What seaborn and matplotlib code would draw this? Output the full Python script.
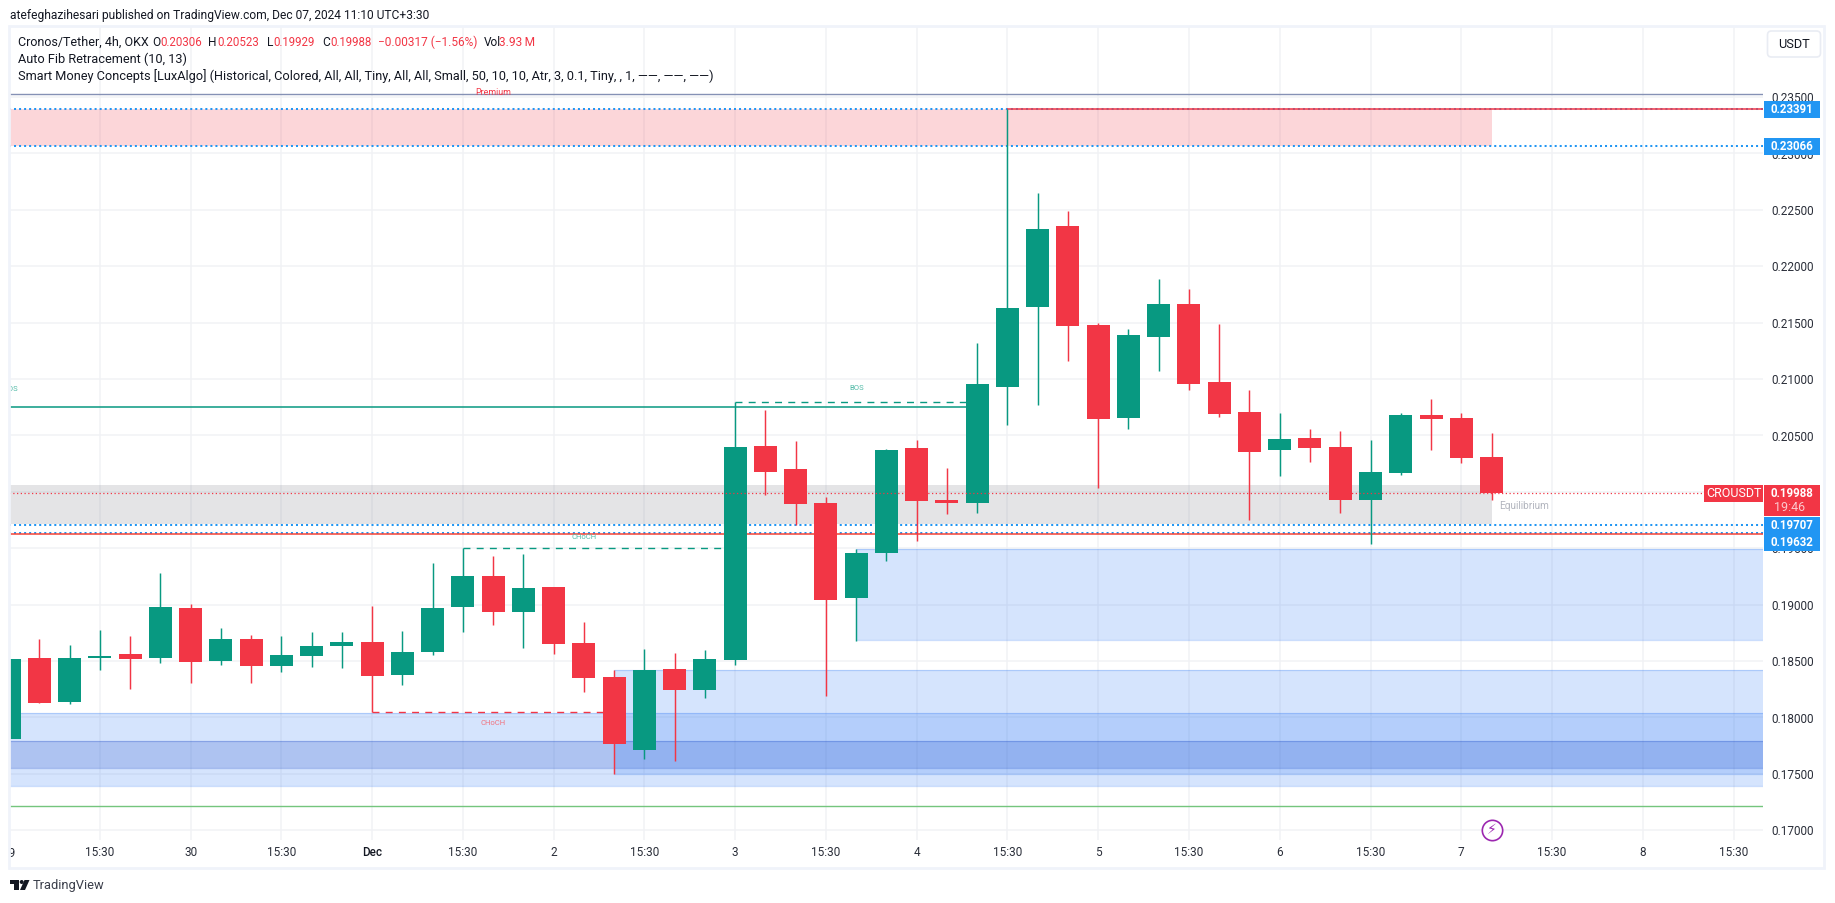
import numpy as np
import pandas as pd
import matplotlib.pyplot as plt
import seaborn as sns
from matplotlib.patches import Rectangle, FancyBboxPatch, Polygon, Circle
from matplotlib.transforms import Bbox

W, H = 1835, 903

# 4h candles, Cronos/Tether
candle_open = [.17809, .18528, .18137, .18528, .18563, .18528, .18971, .18501, .18696, .18457,
               .18545, .18634, .18669, .18377, .18581, .18980, .19255, .18936, .19157, .18661,
               .18359, .17712, .18430, .18244, .18510, .20408, .20204, .19902, .19060, .19459,
               .20390, .19928, .19902, .20931, .21640, .22358, .21480, .20656, .21374, .21667,
               .20975, .20709, .20372, .20478, .20398, .19928, .20168, .20682, .20656, .20306]
candle_high = [.18519, .18696, .18643, .18776, .18723, .19281, .19006, .18794, .18731, .18723,
               .18758, .18758, .18989, .18767, .19370, .19500, .19432, .19450, .19157, .18847,
               .18421, .18607, .18572, .18599, .20801, .20727, .20452, .19955, .19494, .20381,
               .20461, .20212, .21321, .23391, .22651, .22491, .21495, .21445, .21888, .21800,
               .21489, .20904, .20700, .20558, .20540, .20461, .20700, .20824, .20700, .20523]
candle_low = [.17809, .18129, .18120, .18421, .18253, .18483, .18306, .18466, .18306, .18403,
              .18448, .18439, .18052, .18288, .18554, .18758, .18820, .18616, .18563, .18226,
              .17499, .17632, .17614, .18173, .18466, .19973, .19707, .18191, .18678, .19388,
              .19565, .19804, .19813, .20593, .20771, .21161, .20035, .20558, .21072, .20904,
              .20664, .19751, .20141, .20265, .19813, .19538, .20150, .20372, .20256, .19929]
candle_close = [.18519, .18129, .18528, .18545, .18519, .18980, .18492, .18696, .18457, .18554,
                .18634, .18669, .18368, .18581, .18971, .19255, .18936, .19148, .18652, .18350,
                .17765, .18421, .18244, .18519, .20399, .20177, .19893, .19042, .19459, .20372,
                .19919, .19902, .20957, .21631, .22332, .21471, .20647, .21392, .21667, .20957,
                .20691, .20354, .20469, .20390, .19928, .20177, .20682, .20647, .20301, .19988]

price_ticks = [.235, .23, .225, .22, .215, .21, .205, .20, .195, .19, .185, .18, .175, .17]
time_ticks = [3, 6, 9, 12, 15, 18, 21, 24, 27, 30, 33, 36, 39, 42, 45, 48, 51, 54, 57]
time_labels = ["15:30", "30", "15:30", "Dec", "15:30", "2", "15:30", "3", "15:30", "4",
               "15:30", "5", "15:30", "6", "15:30", "7", "15:30", "8", "15:30"]

# smart money zones: (start bar, top, bottom)
demand_zones = [(0, .18037, .17395), (20, .18418, .17502), (28, .19491, .18684)]
dark_zone = (0, .17789, .17555)
premium_zone = (0, .23391, .23066)
equilibrium_zone = (0, .20062, .19713)

fib_levels = [.23391, .23066, .19707, .19632]
last_price = .19988
top_line = .23526
bottom_line = .17213
swing_low_line = .19625
bos_line = .20751

GREEN = "#089981"
RED = "#f23645"
BLUE = "#2196f3"
ZONE = "#3179f5"
TEXT = "#131722"
AXIS_TEXT = "#2a2e39"
FRAME = "#f0f3fa"
GRID = "#f1f2f5"
TICK_SIZE = 8.5
TAG_SIZE = 8.3

sns.set_theme(style="white")
plt.rcParams["font.family"] = ["Roboto", "DejaVu Sans"]

df = pd.DataFrame({"bar": np.arange(len(candle_open)), "open": candle_open, "high": candle_high,
                   "low": candle_low, "close": candle_close})
df["body"] = (df["close"] - df["open"]).abs()
df["base"] = df[["open", "close"]].min(axis=1)
up = df[df["close"] > df["open"]]
down = df[df["close"] <= df["open"]]


def fx(px):
    return px / W


def fy(py):
    return 1 - py / H


fig = plt.figure(figsize=((W + 0.2) / 100, (H + 0.2) / 100), dpi=100, facecolor="white")
ax = fig.add_axes([fx(10), fy(840), fx(1753), 813 / H])
ax.set_facecolor("white")

# bodies and wicks
for part, color in ((up, GREEN), (down, RED)):
    sns.barplot(data=part, x="bar", y="body", bottom=part["base"].to_numpy(), native_scale=True,
                width=0.76, color=color, saturation=1, errorbar=None, linewidth=0, zorder=3, ax=ax)
    ax.vlines(part["bar"], part["low"], part["high"], color=color, lw=1.05, zorder=2.9)

x_right = 57.98
ax.set_xlim(0.03, x_right)
ax.set_ylim(.16914, .24123)
ax.set_xlabel("")
ax.set_ylabel("")
sns.despine(ax=ax, left=True, bottom=True, right=True, top=True)

ax.set_axisbelow(True)
ax.grid(True, color=GRID, lw=1.1, zorder=0.5)
ax.yaxis.tick_right()
ax.set_yticks(price_ticks)
ax.set_yticklabels([f"{p:.5f}" for p in price_ticks], fontsize=TICK_SIZE, color=AXIS_TEXT)
ax.set_xticks(time_ticks)
ax.set_xticklabels(time_labels, fontsize=TICK_SIZE, color=AXIS_TEXT)
ax.tick_params(axis="y", length=0, pad=6)
ax.tick_params(axis="x", length=0, pad=4.5)
for lab in ax.get_xticklabels():
    if lab.get_text() == "Dec":
        lab.set_fontweight(500)
        lab.set_color(TEXT)
first = ax.text(0, -0.016, "29", transform=ax.get_xaxis_transform(), ha="center", va="center",
                fontsize=TICK_SIZE, color=AXIS_TEXT, clip_on=True)
first.set_clip_box(Bbox([[10, 0], [W, H]]))


def zone(start, top, bottom, color, alpha=0.2, end=x_right, edge=True):
    ax.add_patch(Rectangle((start, bottom), end - start, top - bottom, facecolor=color, alpha=alpha,
                           lw=0, zorder=1))
    if edge:
        ax.hlines([top, bottom], start, end, color=color, alpha=0.25, lw=0.9, zorder=1.1)


for start, top, bottom in demand_zones:
    zone(start, top, bottom, ZONE)
zone(*dark_zone, "#1343c5")
zone(*premium_zone, RED, end=49, edge=False)
zone(*equilibrium_zone, "#787b86", end=49, edge=False)

dots = (0, (1, 1.5))
ax.hlines(fib_levels, 0, x_right, color=BLUE, lw=1.45, linestyles=[dots], zorder=1.5)
ax.hlines(top_line, 0, x_right, color="#8591b5", lw=1, zorder=1.5)
ax.hlines(bottom_line, 0, x_right, color="#74c57d", lw=1, zorder=1.5)
ax.hlines(swing_low_line, 0, x_right, color="#f44336", lw=1.1, zorder=1.6)
ax.hlines(candle_high[33], 33, x_right, color=RED, lw=1.1, zorder=1.6)
ax.hlines(bos_line, 0, 32, color=GREEN, lw=1.1, zorder=1.6)
ax.hlines(last_price, 0, x_right, color=RED, lw=0.9, linestyles=[(0, (1, 2))], zorder=4)

dash = (0, (5, 4.5))
ax.hlines(candle_high[24], 24, 32, color=GREEN, lw=1, linestyles=[dash], zorder=1.6)
ax.hlines(candle_high[15], 15, 24, color=GREEN, lw=1, linestyles=[dash], zorder=1.6)
ax.hlines(candle_low[12], 12, 20, color=RED, lw=1, linestyles=[dash], zorder=1.6)

small = dict(ha="center", va="center", fontsize=5.5, zorder=5, clip_on=True)
ax.text(28, .2092, "BOS", color="#53bba8", **small)
ax.text(0.05, .2091, "BOS", color="#53bba8", **small)
ax.text(19, .19600, "CHoCH", color="#53bba8", **small)
ax.text(16, .17955, "CHoCH", color="#f2727e", **small)
ax.text(16, .23545, "Premium", color=RED, ha="center", va="center", fontsize=6.4, zorder=5)
ax.text(50.07, .19875, "Equilibrium", color="#b2b5be", ha="center", va="center", fontsize=7.2, zorder=5)

# event marker under the last bar
sns.scatterplot(x=[49], y=[.17], s=215, facecolor="white", edgecolor="#9c27b0", linewidth=1.2,
                zorder=6, clip_on=False, ax=ax, legend=False)
ax.text(49, .17, "\u26a1", color="#9c27b0", ha="center", va="center", fontsize=10, zorder=7,
        family=["DejaVu Sans"])


def tag(x0, x1, y0, y1, color):
    fig.add_artist(FancyBboxPatch((fx(x0), fy(y1)), fx(x1 - x0), (y1 - y0) / H, boxstyle="square,pad=0",
                                  facecolor=color, edgecolor="none", transform=fig.transFigure, zorder=2))


def tag_text(x, y, s, color="white", size=TAG_SIZE, weight="bold"):
    fig.text(fx(x), fy(y), s, color=color, fontsize=size, ha="center", va="center", zorder=3, fontweight=weight)


tag(1764, 1820, 101, 117.7, BLUE)
tag_text(1792, 109.5, f"{fib_levels[0]:.5f}")
tag(1764, 1820, 138, 154.7, BLUE)
tag_text(1792, 146.5, f"{fib_levels[1]:.5f}")
tag(1704, 1763, 485, 502, RED)
tag_text(1733.5, 493.5, "CROUSDT", weight="normal", size=9)
tag(1764, 1820, 485, 516, RED)
tag_text(1792, 493, f"{last_price:.5f}")
tag_text(1789, 507.7, "19:46", color="#fbc9ce", weight="normal", size=9)
tag(1764, 1820, 517, 550.7, BLUE)
tag_text(1792, 525, f"{fib_levels[2]:.5f}")
tag_text(1792, 542.7, f"{fib_levels[3]:.5f}")

# chart frame and the currency button
fig.add_artist(Rectangle((fx(8.8), fy(868)), fx(1815.4), 842 / H, fill=False, edgecolor=FRAME, lw=2,
                         transform=fig.transFigure, zorder=1))
btn = FancyBboxPatch((1767.5, H - 57), 53, 26, boxstyle="round,pad=0,rounding_size=4", facecolor="white",
                     edgecolor="#e9ecf3", lw=1.2, transform=None, zorder=2)
fig.add_artist(btn)
tag_text(1794, 44, "USDT", color=TEXT, size=9.2, weight="normal")

# header and legend
fig.text(fx(10), fy(15), "atefeghazihesari published on TradingView.com, Dec 07, 2024 11:10 UTC+3:30",
         color=TEXT, fontsize=8.65, va="center")
legend_y = 42
for x, s, c, size in [(18, "Cronos/Tether, 4h, OKX", TEXT, 9), (152, "O", TEXT, 8.6), (160, "0.20306", RED, 8.3),
                      (208, "H", TEXT, 8.6), (217, "0.20523", RED, 8.3), (267, "L", TEXT, 8.6),
                      (273, "0.19929", RED, 8.3), (322, "C", TEXT, 8.6), (330, "0.19988", RED, 8.3),
                      (378, "\u22120.00317 (\u22121.56%)", RED, 8.6), (484, "Vol", TEXT, 8.6),
                      (499, "3.93\u2009M", RED, 8.6)]:
    fig.text(fx(x), fy(legend_y), s, color=c, fontsize=size, va="center")
fig.text(fx(18), fy(59), "Auto Fib Retracement (10, 13)", color=TEXT, fontsize=9.15, va="center")
fig.text(fx(18), fy(76), "Smart Money Concepts [LuxAlgo] (Historical, Colored, All, All, Tiny, All, All, Small, "
         "50, 10, 10, Atr, 3, 0.1, Tiny, , 1, \u2014\u2014, \u2014\u2014, \u2014\u2014)",
         color=TEXT, fontsize=9.2, va="center")

# logo
for pts in ([(10, 880), (19, 880), (19, 890), (14, 890), (14, 884.5), (10, 884.5)],
            [(29.5, 880), (25, 890), (20, 890), (24.5, 880)]):
    fig.add_artist(Polygon([(fx(a), fy(b)) for a, b in pts], facecolor="#131722", edgecolor="none",
                           transform=fig.transFigure, zorder=2))
fig.add_artist(Circle((21.7, H - 882), 2, facecolor="#131722", edgecolor="none", transform=None, zorder=2))
fig.text(fx(33), fy(885), "TradingView", color="#3a3e4a", fontsize=9.3, va="center")

fig.savefig("out.png", dpi=100)
